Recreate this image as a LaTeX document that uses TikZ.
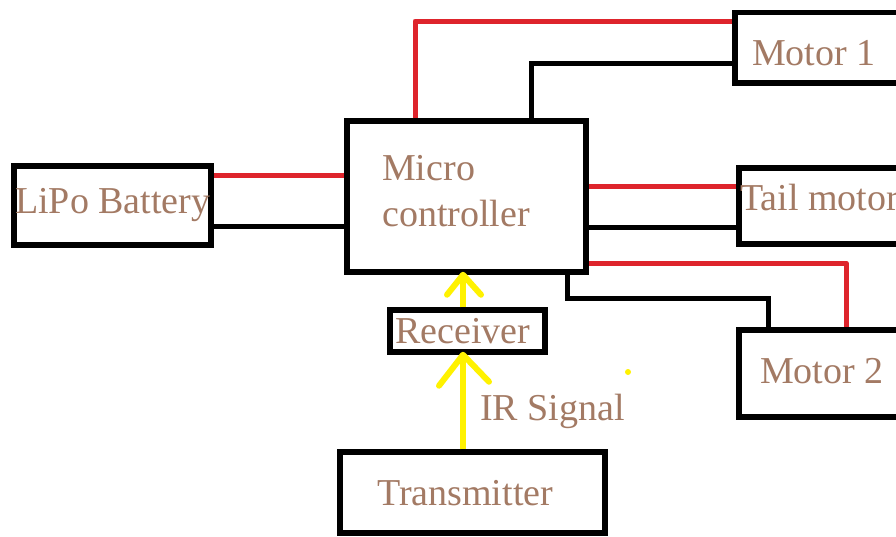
\documentclass[tikz,border=0pt]{standalone}
\usepackage{fontspec}
\setmainfont{Liberation Serif}
\usetikzlibrary{calc}
\definecolor{wirered}{RGB}{222,36,44}
\definecolor{sigyel}{RGB}{255,242,0}
\definecolor{txtc}{RGB}{163,122,100}
\begin{document}
\begin{tikzpicture}[x=1pt,y=-1pt,
  box/.style={draw=black, line width=5.5pt, inner sep=0pt},
  lbl/.style={anchor=base west, inner sep=0pt, text=txtc, font=\fontsize{38}{44}\selectfont},
  redw/.style={draw=wirered, line width=5pt, line join=round},
  blkw/.style={draw=black, line width=5pt},
  yelw/.style={draw=sigyel, line width=6pt, line join=round, line cap=round}]
\useasboundingbox (0,0) rectangle (896,536);
\clip (0,0) rectangle (896,536);
\fill[white] (0,0) rectangle (896,536);

% boxes
\node[box, minimum width=239pt, minimum height=151pt] (micro) at (466.5,196.5) {};
\node[box, minimum width=197pt, minimum height=79pt] (bat) at (112.5,205.5) {};
\node[box, minimum width=175pt, minimum height=70.5pt] (m1) at (822.5,47.75) {};
\node[box, minimum width=171pt, minimum height=76pt] (tail) at (824.5,206) {};
\node[box, minimum width=171pt, minimum height=87pt] (m2) at (824.5,373.5) {};
\node[box, minimum width=155pt, minimum height=42pt] (recv) at (467.5,331) {};
\node[box, minimum width=265pt, minimum height=81pt] (trans) at (472.5,492.5) {};

% texts
\node[lbl] (tmicro) at (382,180) {Micro};
\node[lbl] (tctrl) at (382,226) {controller};
\node[lbl] (tbat) at (15,213) {LiPo Battery};
\node[lbl] (tm1) at (752,65) {Motor 1};
\node[lbl] (ttail) at (740,210) {Tail motor};
\node[lbl] (tm2) at (760,383) {Motor 2};
\node[lbl] (trecv) at (395,343) {Receiver};
\node[lbl] (tir) at (480,420) {IR Signal};
\node[lbl] (ttrans) at (377,505) {Transmitter};

% wires
\coordinate (r1) at (415,21);
\coordinate (k1) at (531,63);
\draw[redw] (micro.north -| r1) |- (m1.west |- r1);
\draw[blkw] (micro.north -| k1) |- (m1.west |- k1);

\coordinate (r2) at (0,175);
\coordinate (k2) at (0,226);
\draw[redw] (bat.east |- r2) -- (micro.west |- r2);
\draw[blkw] (bat.east |- k2) -- (micro.west |- k2);

\coordinate (r3) at (0,186);
\coordinate (k3) at (0,227);
\draw[redw] (micro.east |- r3) -- (tail.west |- r3);
\draw[blkw] (micro.east |- k3) -- (tail.west |- k3);

\coordinate (r4) at (846,263);
\draw[redw] (micro.east |- r4) -| (m2.north -| r4);
\coordinate (k4a) at (567,298);
\coordinate (k4b) at (768,298);
\draw[blkw] (micro.south -| k4a) |- (k4b) -- (m2.north -| k4b);

% signal arrows
\coordinate (yx) at (463,0);
\draw[yelw, line cap=butt] (recv.north -| yx) -- (micro.south -| yx);
\draw[yelw] ($(micro.south -| yx)+(-16,20)$) -- (micro.south -| yx) -- ($(micro.south -| yx)+(18,20)$);
\draw[yelw, line cap=butt] (trans.north -| yx) -- (recv.south -| yx);
\draw[yelw] ($(recv.south -| yx)+(-24,31)$) -- (recv.south -| yx) -- ($(recv.south -| yx)+(26,27)$);
\fill[sigyel] (628,372) circle (3pt);
\end{tikzpicture}
\end{document}
